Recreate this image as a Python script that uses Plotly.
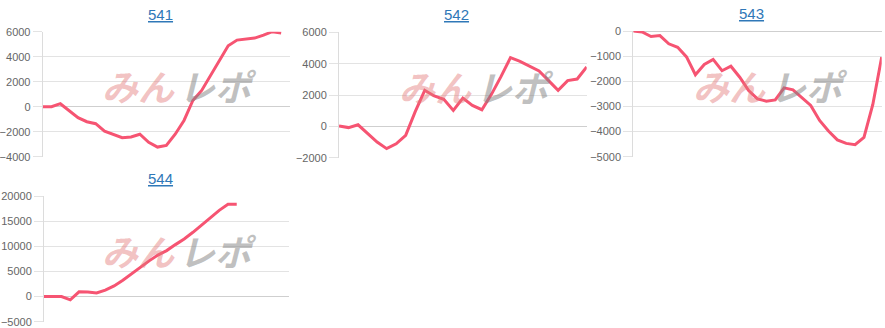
import plotly.graph_objects as go

W, H = 885, 328

titles = ["541", "542", "543", "544"]
days29 = list(range(1, 30))
days27 = list(range(1, 28))

v541 = [0, 0, 240, -320, -880, -1200, -1360, -1950, -2210, -2480, -2420, -2200,
        -2850, -3230, -3100, -2200, -1100, 500, 1300, 2500, 3700, 4880, 5330, 5410,
        5490, 5730, 6000, 5890]
v542 = [30, -80, 100, -470, -1000, -1420, -1110, -570, 940, 2300, 1940, 1720, 1020,
        1800, 1340, 1060, 2040, 3170, 4380, 4150, 3850, 3530, 2920, 2300, 2920, 3020, 3790]
v543 = [0, -40, -220, -180, -510, -650, -1030, -1740, -1330, -1130, -1580, -1400,
        -1840, -2370, -2700, -2790, -2740, -2260, -2340, -2670, -2960, -3560, -3980,
        -4330, -4470, -4520, -4230, -2920, -1040]
v544 = [0, 0, 0, -660, 930, 900, 700, 1260, 2120, 3250, 4580, 5900, 7100, 8250,
        9140, 10330, 11460, 12780, 14240, 15760, 17150, 18340, 18340]

series = [(days29, v541), (days27, v542), (days29, v543), (days29, v544)]
yranges = [(-4000, 6000, 2000), (-2000, 6000, 2000), (-5000, 0, 1000), (-5000, 20000, 5000)]

# plot areas in pixels: left, right, top, bottom
boxes = [(42.7, 290, 31.7, 156.7), (339, 586.7, 32.3, 157.7),
         (633.3, 881.7, 31, 156.7), (44, 289.3, 196, 321.7)]

LINE = "rgb(246,84,114)"
GRID = "#e3e3e3"
TICKC = "#666666"
FONT = "Liberation Sans, Arial, Helvetica, sans-serif"

fig = go.Figure()
annotations = []
for i, ((xs, ys), (y0, y1, dt), (l, r, t, b)) in enumerate(zip(series, yranges, boxes), start=1):
    sfx = "" if i == 1 else str(i)
    fig.add_trace(go.Scatter(x=xs[:len(ys)], y=ys, mode="lines",
                             line=dict(color=LINE, width=3),
                             xaxis="x" + sfx, yaxis="y" + sfx, hoverinfo="skip",
                             showlegend=False))
    fig.layout["xaxis" + sfx] = dict(
        domain=[l / W, r / W], range=[xs[0], xs[-1]], anchor="y" + sfx,
        showgrid=False, showticklabels=False, zeroline=False, showline=False,
        ticks="", fixedrange=True, automargin=False)
    fig.layout["yaxis" + sfx] = dict(
        domain=[1 - b / H, 1 - t / H], range=[y0, y1], anchor="x" + sfx,
        dtick=dt, tick0=0, tickformat="d", showgrid=True, gridcolor=GRID, gridwidth=1,
        zeroline=True, zerolinecolor="#cfcfcf", zerolinewidth=1,
        showline=True, linecolor="#dcdcdc", linewidth=1,
        ticks="outside", ticklen=9, tickcolor=GRID, tickwidth=1, automargin=False,
        tickfont=dict(family=FONT, size=11, color=TICKC), fixedrange=True)
    # title
    cx = (l + r) / 2 - 6
    annotations.append(dict(text="<u>" + titles[i - 1] + "</u>", xref="paper", yref="paper",
                            x=cx / W, y=1 - (t - 17.5) / H, xanchor="center", yanchor="middle",
                            showarrow=False, font=dict(family=FONT, size=15, color="#2f78b8")))
    # watermark
    wx = l + 0.54 * (r - l)
    wy = t + 0.43 * (b - t)
    annotations.append(dict(text="<b><i>みん</i></b>", xref="paper", yref="paper",
                            x=(wx + 1) / W, y=1 - wy / H, xanchor="right", yanchor="middle",
                            showarrow=False,
                            font=dict(family="Noto Sans CJK JP", size=36,
                                      color="rgba(226,120,120,0.45)")))
    annotations.append(dict(text="<b><i>レポ</i></b>", xref="paper", yref="paper",
                            x=(wx + 1) / W, y=1 - wy / H, xanchor="left", yanchor="middle",
                            showarrow=False,
                            font=dict(family="Noto Sans CJK JP", size=36,
                                      color="rgba(130,130,130,0.5)")))

fig.update_layout(width=W, height=H,
                  margin=dict(l=0, r=0, t=0, b=0, pad=0, autoexpand=False),
                  paper_bgcolor="white", plot_bgcolor="white",
                  annotations=annotations, font=dict(family=FONT))

fig.write_html("out.html", config={"displayModeBar": False})
